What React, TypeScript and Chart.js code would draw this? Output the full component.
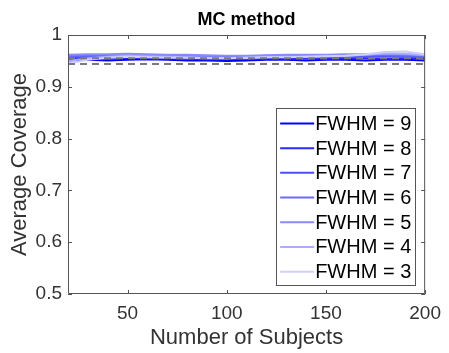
import React, { useEffect, useRef } from "react";
import { Chart, registerables } from "chart.js";

Chart.register(...registerables);

const subjects = [20, 30, 40, 50, 60, 70, 80, 90, 100, 110, 120, 130, 140, 150, 160, 170, 180, 190, 200];

const fwhm9 = [0.951, 0.952, 0.951, 0.952, 0.953, 0.952, 0.951, 0.951, 0.950, 0.951, 0.952, 0.952, 0.951, 0.952, 0.952, 0.951, 0.952, 0.952, 0.951];
const fwhm8 = [0.954, 0.955, 0.954, 0.956, 0.955, 0.955, 0.954, 0.953, 0.953, 0.954, 0.955, 0.954, 0.955, 0.954, 0.955, 0.955, 0.954, 0.955, 0.955];
const fwhm7 = [0.957, 0.958, 0.957, 0.958, 0.959, 0.958, 0.957, 0.956, 0.955, 0.956, 0.957, 0.958, 0.957, 0.958, 0.957, 0.958, 0.959, 0.958, 0.957];
const fwhm6 = [0.960, 0.960, 0.961, 0.962, 0.961, 0.961, 0.960, 0.959, 0.958, 0.959, 0.960, 0.960, 0.961, 0.960, 0.960, 0.961, 0.961, 0.960, 0.960];
const fwhm5 = [0.962, 0.963, 0.963, 0.964, 0.963, 0.962, 0.962, 0.961, 0.960, 0.960, 0.961, 0.962, 0.962, 0.962, 0.963, 0.963, 0.964, 0.963, 0.962];
const fwhm4 = [0.950, 0.955, 0.958, 0.960, 0.959, 0.958, 0.957, 0.956, 0.955, 0.956, 0.957, 0.958, 0.958, 0.959, 0.960, 0.962, 0.965, 0.964, 0.961];
const fwhm3 = [0.945, 0.952, 0.956, 0.958, 0.957, 0.956, 0.956, 0.955, 0.955, 0.956, 0.957, 0.957, 0.958, 0.959, 0.960, 0.963, 0.967, 0.968, 0.963];

const seriesLabels = ["FWHM = 9", "FWHM = 8", "FWHM = 7", "FWHM = 6", "FWHM = 5", "FWHM = 4", "FWHM = 3"];
const seriesValues = [fwhm9, fwhm8, fwhm7, fwhm6, fwhm5, fwhm4, fwhm3];
const seriesColors = ["#0000ff", "#2a2aff", "#4d4dff", "#6a6aff", "#8a8aff", "#ababff", "#cfcfff"];

const boundUpper = 0.955;
const boundLower = 0.944;

const xTicks = [50, 100, 150, 200];
const yTicks = [0.5, 0.6, 0.7, 0.8, 0.9, 1];

const FONT = "'Liberation Sans', Arial, Helvetica, sans-serif";

const framePlugin = {
  id: "frame",
  afterDraw(chart: any) {
    const { ctx, chartArea, scales } = chart;
    const { left, right, top, bottom } = chartArea;
    ctx.save();
    ctx.strokeStyle = "#555555";
    ctx.lineWidth = 1;
    ctx.beginPath();
    ctx.rect(left + 0.5, top + 0.5, right - left - 1, bottom - top - 1);
    ctx.stroke();
    const tl = 4;
    ctx.beginPath();
    for (const v of xTicks) {
      const x = Math.round(scales.x.getPixelForValue(v)) + 0.5;
      ctx.moveTo(x, bottom);
      ctx.lineTo(x, bottom - tl);
      ctx.moveTo(x, top);
      ctx.lineTo(x, top + tl);
    }
    for (const v of yTicks) {
      const y = Math.round(scales.y.getPixelForValue(v)) + 0.5;
      ctx.moveTo(left, y);
      ctx.lineTo(left + tl, y);
      ctx.moveTo(right, y);
      ctx.lineTo(right - tl, y);
    }
    ctx.stroke();

    // title
    ctx.fillStyle = "#000000";
    ctx.font = `bold 18px ${FONT}`;
    ctx.textAlign = "center";
    ctx.textBaseline = "alphabetic";
    ctx.fillText("MC method", (left + right) / 2, 25);

    // legend
    const n = seriesLabels.length;
    const rowH = 24.7;
    const lx = right - 149;
    const lr = right - 10;
    const lb = bottom - 9;
    const lt = lb - rowH * n - 4;
    ctx.fillStyle = "#ffffff";
    ctx.fillRect(lx, lt, lr - lx, lb - lt);
    ctx.strokeStyle = "#555555";
    ctx.lineWidth = 1;
    ctx.strokeRect(Math.round(lx) + 0.5, Math.round(lt) + 0.5, Math.round(lr - lx), Math.round(lb - lt));
    ctx.font = `20px ${FONT}`;
    ctx.textAlign = "left";
    ctx.textBaseline = "middle";
    for (let i = 0; i < n; i++) {
      const cy = lt + 2 + rowH * (i + 0.5) + 1;
      ctx.strokeStyle = seriesColors[i];
      ctx.lineWidth = 2;
      ctx.beginPath();
      ctx.moveTo(lx + 4, cy);
      ctx.lineTo(lx + 38, cy);
      ctx.stroke();
      ctx.fillStyle = "#000000";
      ctx.fillText(seriesLabels[i], lx + 39, cy + 1);
    }
    ctx.restore();
  },
};

export default function App() {
  const ref = useRef<HTMLCanvasElement | null>(null);
  useEffect(() => {
    if (!ref.current) return;
    const datasets: any[] = seriesValues.map((vals, i) => ({
      label: seriesLabels[i],
      data: vals.map((v, j) => ({ x: subjects[j], y: v })),
      borderColor: seriesColors[i],
      backgroundColor: seriesColors[i],
      borderWidth: 2,
      pointRadius: 0,
      tension: 0,
      order: 10 + (seriesValues.length - i),
    }));
    [boundUpper, boundLower].forEach((b, k) => {
      datasets.push({
        label: "bound" + k,
        data: [
          { x: subjects[0], y: b },
          { x: subjects[subjects.length - 1], y: b },
        ],
        borderColor: "#7a7a7a",
        borderWidth: 2,
        borderDash: [7, 5],
        pointRadius: 0,
        order: 1,
      });
    });
    const chart = new Chart(ref.current, {
      type: "line",
      data: { datasets },
      plugins: [framePlugin],
      options: {
        animation: false,
        responsive: false,
        devicePixelRatio: 1,
        layout: { padding: { left: 0, right: 19, top: 35, bottom: 0 } },
        plugins: { legend: { display: false }, tooltip: { enabled: false }, title: { display: false } },
        scales: {
          x: {
            type: "linear",
            min: 20,
            max: 200,
            afterBuildTicks: (s: any) => {
              s.ticks = xTicks.map((v) => ({ value: v }));
            },
            afterFit: (s: any) => {
              s.height = 59;
            },
            grid: { display: false, drawTicks: false },
            border: { display: false },
            ticks: { color: "#333333", font: { family: FONT, size: 19 }, padding: 8, maxRotation: 0, autoSkip: false },
            title: { display: true, text: "Number of Subjects", color: "#333333", font: { family: FONT, size: 22 }, padding: { top: 0, bottom: 2 } },
          },
          y: {
            type: "linear",
            min: 0.5,
            max: 1,
            afterBuildTicks: (s: any) => {
              s.ticks = yTicks.map((v) => ({ value: v }));
            },
            afterFit: (s: any) => {
              s.width = 68;
            },
            grid: { display: false, drawTicks: false },
            border: { display: false },
            ticks: { color: "#333333", font: { family: FONT, size: 19 }, padding: 6, callback: (v: any) => String(Math.round(Number(v) * 10) / 10) },
            title: { display: true, text: "Average Coverage", color: "#333333", font: { family: FONT, size: 22 }, padding: { top: 7, bottom: 0 } },
          },
        },
      },
    });
    return () => chart.destroy();
  }, []);
  return (
    <div style={{ position: "fixed", left: 0, top: 0, width: 449, height: 353, background: "#ffffff" }}>
      <canvas ref={ref} width={449} height={353} style={{ width: 449, height: 353, display: "block" }} />
    </div>
  );
}
